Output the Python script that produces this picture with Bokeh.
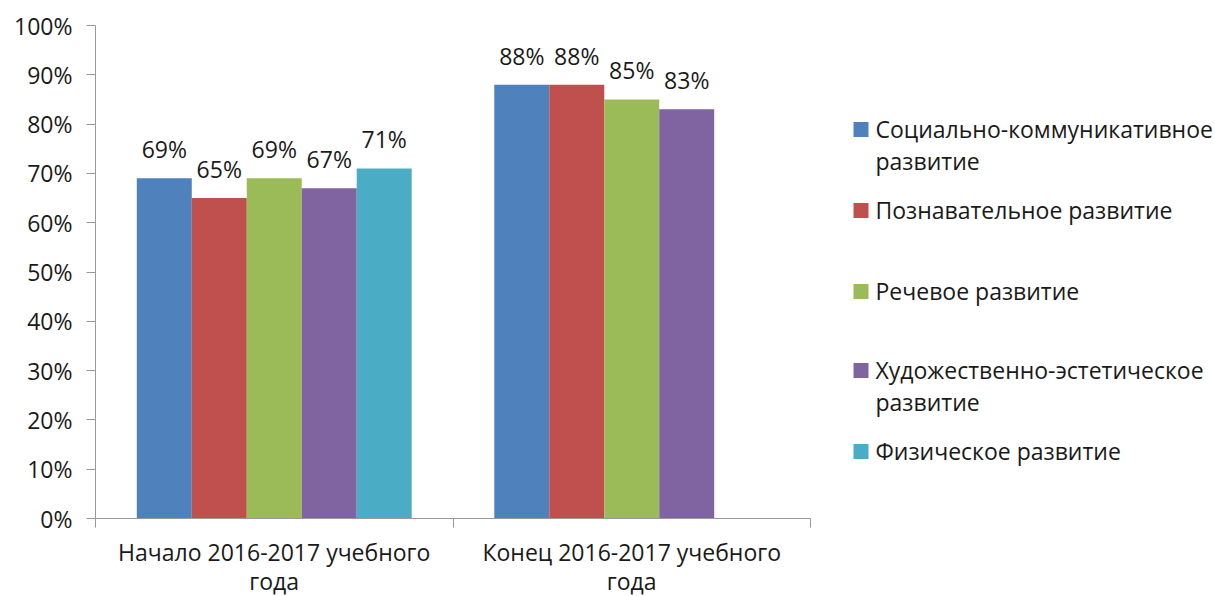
from bokeh.plotting import figure
from bokeh.models import Range1d, FixedTicker, NumeralTickFormatter, ColumnDataSource
from bokeh.layouts import row
from bokeh.embed import file_html
from bokeh.resources import INLINE
from bokeh.core.properties import value

# ---- data ----
categories = ["Начало 2016-2017 учебного\nгода", "Конец 2016-2017 учебного\nгода"]
series_names = [
    "Социально-коммуникативное\nразвитие",
    "Познавательное развитие",
    "Речевое развитие",
    "Художественно-эстетическое\nразвитие",
    "Физическое развитие",
]
social = [0.69, 0.88]
cognitive = [0.65, 0.88]
speech = [0.69, 0.85]
artistic = [0.67, 0.83]
physical = [0.71, None]
series_values = [social, cognitive, speech, artistic, physical]
colors = ["#4F81BD", "#C0504D", "#9BBB59", "#8064A2", "#4BACC6"]
y_ticks = [0.0, 0.1, 0.2, 0.3, 0.4, 0.5, 0.6, 0.7, 0.8, 0.9, 1.0]

FONT = "Open Sans"
FSIZE = "23px"
TEXT_COLOR = "#1a1a1a"
AXIS_COLOR = "#999999"

n_cat = len(categories)
n_ser = len(series_names)
bar_w = 0.1538

FRAME_TOP, FRAME_H = 25, 493

p = figure(
    frame_width=715, frame_height=FRAME_H,
    x_range=Range1d(0, n_cat), y_range=Range1d(0, 1),
    output_backend="svg", toolbar_location=None,
    min_border_left=95, min_border_right=28, min_border_top=FRAME_TOP, min_border_bottom=78,
)
p.outline_line_color = None
p.xgrid.grid_line_color = None
p.ygrid.grid_line_color = None

for j, (name, vals, col) in enumerate(zip(series_names, series_values, colors)):
    xs, tops, labels = [], [], []
    for i, v in enumerate(vals):
        if v is None:
            continue
        xs.append(i + 0.5 + (j - (n_ser - 1) / 2) * bar_w)
        tops.append(v)
        labels.append(f"{round(v * 100)}%")
    src = ColumnDataSource(dict(x=xs, top=tops, label=labels))
    p.vbar(x="x", top="top", width=bar_w, source=src, fill_color=col, line_color=None)
    p.text(x="x", y="top", text="label", source=src, text_align="center",
           text_baseline="alphabetic", y_offset=-29,
           text_font=value(FONT), text_font_size=FSIZE, text_color=TEXT_COLOR)

# y axis
ya = p.yaxis[0]
ya.ticker = FixedTicker(ticks=y_ticks, minor_ticks=[])
ya.formatter = NumeralTickFormatter(format="0%")
ya.axis_line_color = AXIS_COLOR
ya.major_tick_line_color = AXIS_COLOR
ya.major_tick_out = 9
ya.major_tick_in = 0
ya.minor_tick_line_color = None
ya.major_label_standoff = 14
ya.major_label_text_font = FONT
ya.major_label_text_font_size = FSIZE
ya.major_label_text_color = TEXT_COLOR

# x axis
xa = p.xaxis[0]
centers = [i + 0.5 for i in range(n_cat)]
xa.ticker = FixedTicker(ticks=centers, minor_ticks=list(range(n_cat + 1)))
xa.major_label_overrides = {c: lab for c, lab in zip(centers, categories)}
xa.axis_line_color = AXIS_COLOR
xa.major_tick_line_color = None
xa.major_tick_out = 0
xa.major_tick_in = 0
xa.minor_tick_line_color = AXIS_COLOR
xa.minor_tick_out = 9
xa.minor_tick_in = 0
xa.major_label_standoff = 8
xa.major_label_text_font = FONT
xa.major_label_text_font_size = FSIZE
xa.major_label_text_color = TEXT_COLOR
xa.major_label_text_line_height = 0.93

# ---- legend panel (coordinates are page pixels) ----
LX0, LX1 = 838, 1215
lg = figure(frame_width=LX1 - LX0, frame_height=FRAME_H,
            x_range=Range1d(LX0, LX1), y_range=Range1d(FRAME_TOP + FRAME_H, FRAME_TOP),
            output_backend="svg", toolbar_location=None,
            min_border_left=0, min_border_right=0, min_border_top=FRAME_TOP, min_border_bottom=78)
lg.outline_line_color = None
lg.axis.visible = False
lg.grid.visible = False
row_y = [129, 210, 291, 370, 451]
lg.rect(x=[860.5] * n_ser, y=row_y, width=15, height=15, fill_color=colors, line_color=None)
lg.text(x=[875] * n_ser, y=[y - 17 for y in row_y], text=series_names,
        text_baseline="top", text_align="left", text_line_height=1.0,
        text_font=value(FONT), text_font_size=FSIZE, text_color=TEXT_COLOR)

layout = row(p, lg)
open("out.html", "w").write(file_html(layout, INLINE))
